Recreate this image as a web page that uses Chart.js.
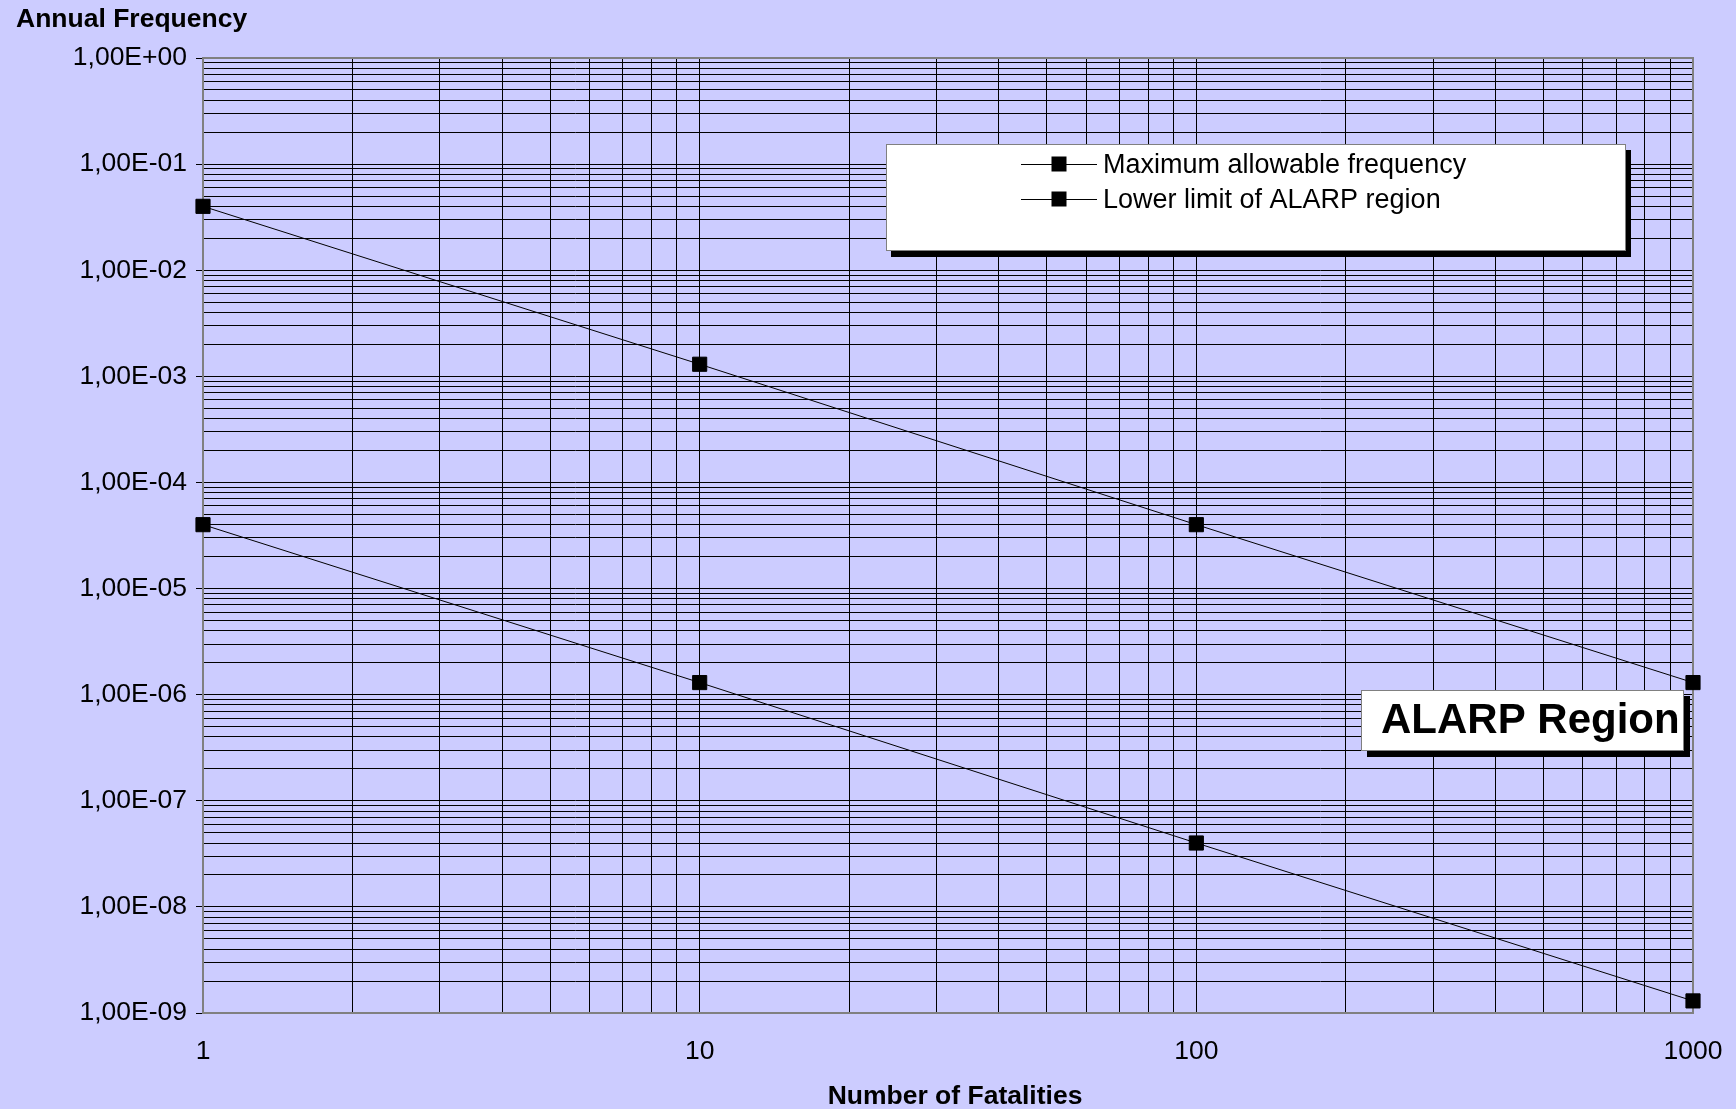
<!DOCTYPE html>
<html>
<head>
<meta charset="utf-8">
<title>F-N Curve</title>
<script src="https://cdn.jsdelivr.net/npm/chart.js@4/dist/chart.umd.min.js"></script>
<style>
  html, body { margin: 0; padding: 0; background: #ccccff; }
  #wrap { width: 1736px; height: 1109px; position: relative; }
  canvas { display: block; }
</style>
</head>
<body>
<div id="wrap"><canvas id="fn" width="1736" height="1109"></canvas></div>
<script>
// Number of fatalities (N) and annual frequency limits
const fatalities   = [1, 10, 100, 1000];
const maxAllowable = [4e-2, 1.3e-3, 4e-5, 1.3e-6];
const alarpLower   = [4e-5, 1.3e-6, 4e-8, 1.3e-9];
const seriesNames  = ['Maximum allowable frequency', 'Lower limit of ALARP region'];

// Axis labels
const xTickLabels = ['1', '10', '100', '1000'];
const yTickLabels = ['1,00E+00', '1,00E-01', '1,00E-02', '1,00E-03', '1,00E-04',
                     '1,00E-05', '1,00E-06', '1,00E-07', '1,00E-08', '1,00E-09'];
const yAxisTitle  = 'Annual Frequency';
const xAxisTitle  = 'Number of Fatalities';
const regionLabel = 'ALARP Region';

const FONT = '"Liberation Sans", Arial, Helvetica, sans-serif';
const FS = 26.5;

// gridline values 1..9 x 10^k between two powers of ten
function logGrid(minExp, maxExp) {
  const out = [];
  for (let e = minExp; e < maxExp; e++) {
    for (let m = 1; m <= 9; m++) out.push({ value: m * Math.pow(10, e), major: m === 1 });
  }
  out.push({ value: Math.pow(10, maxExp), major: true });
  return out;
}
function isDecade(v) {
  const l = Math.log10(v);
  return Math.abs(l - Math.round(l)) < 1e-9;
}

const decor = {
  id: 'decor',
  beforeDraw(chart) {
    const ctx = chart.ctx;
    ctx.save();
    ctx.fillStyle = '#ccccff';
    ctx.fillRect(0, 0, chart.width, chart.height);
    ctx.restore();
  },
  beforeDatasetsDraw(chart) {
    const { ctx, chartArea: a } = chart;
    ctx.save();
    ctx.strokeStyle = '#808080';
    ctx.lineWidth = 2;
    ctx.strokeRect(a.left, a.top, a.right - a.left, a.bottom - a.top);
    ctx.restore();
  },
  afterDatasetsDraw(chart) {
    const { ctx, chartArea: a } = chart;
    ctx.save();

    // legend box
    const lx = a.left + 683, ly = a.top + 86, lw = 740, lh = 107;
    ctx.fillStyle = '#000';
    ctx.fillRect(lx + 5, ly + 6, lw, lh);
    ctx.fillStyle = '#fff';
    ctx.fillRect(lx, ly, lw, lh);
    ctx.strokeStyle = '#808080';
    ctx.lineWidth = 1;
    ctx.strokeRect(lx + 0.5, ly + 0.5, lw - 1, lh - 1);

    chart.data.datasets.forEach((ds, i) => {
      const y = Math.round(ly + 20 + i * 35) + 0.5;
      ctx.strokeStyle = '#000';
      ctx.lineWidth = 1;
      ctx.beginPath();
      ctx.moveTo(lx + 135, y);
      ctx.lineTo(lx + 211, y);
      ctx.stroke();
      ctx.fillStyle = '#000';
      ctx.fillRect(lx + 165.5, y - 8, 15, 15);
      ctx.font = `27px ${FONT}`;
      ctx.textBaseline = 'middle';
      ctx.textAlign = 'left';
      ctx.fillText(ds.label, lx + 217, y + 1);
    });

    // region annotation box
    const bx = a.left + 1158, by = a.top + 632, bw = 323, bh = 61;
    ctx.fillStyle = '#000';
    ctx.fillRect(bx + 6, by + 6, bw, bh);
    ctx.fillStyle = '#fff';
    ctx.fillRect(bx, by, bw, bh);
    ctx.strokeStyle = '#808080';
    ctx.strokeRect(bx + 0.5, by + 0.5, bw - 1, bh - 1);
    ctx.fillStyle = '#000';
    ctx.font = `bold 42px ${FONT}`;
    ctx.textBaseline = 'alphabetic';
    ctx.textAlign = 'left';
    ctx.fillText(regionLabel, bx + 20, by + 43);

    ctx.restore();
  },
  afterDraw(chart) {
    const ctx = chart.ctx;
    ctx.save();
    ctx.fillStyle = '#000';
    ctx.font = `bold ${FS}px ${FONT}`;
    ctx.textBaseline = 'alphabetic';
    ctx.textAlign = 'left';
    ctx.fillText(yAxisTitle, 16, 26.5);
    ctx.textAlign = 'center';
    ctx.fillText(xAxisTitle, 955, 1103.5);
    ctx.restore();
  }
};

const seriesStyle = {
  borderColor: '#000',
  borderWidth: 1,
  pointStyle: 'rect',
  pointRadius: 10,
  pointBackgroundColor: '#000',
  pointBorderColor: '#000',
  pointBorderWidth: 1,
  tension: 0,
  fill: false,
  clip: false
};

new Chart(document.getElementById('fn'), {
  type: 'line',
  data: {
    datasets: [
      Object.assign({ label: seriesNames[0], data: fatalities.map((n, i) => ({ x: n, y: maxAllowable[i] })) }, seriesStyle),
      Object.assign({ label: seriesNames[1], data: fatalities.map((n, i) => ({ x: n, y: alarpLower[i] })) }, seriesStyle)
    ]
  },
  options: {
    responsive: false,
    animation: false,
    events: [],
    layout: { padding: { top: 58, right: 43, left: 0, bottom: 0 } },
    plugins: { legend: { display: false }, tooltip: { enabled: false } },
    scales: {
      x: {
        type: 'logarithmic',
        position: 'bottom',
        min: 1,
        max: 1000,
        afterBuildTicks(scale) { scale.ticks = logGrid(0, 3); },
        afterFit(scale) {
          scale.height = 96;
          scale.paddingLeft = 0;
          scale.paddingRight = 0;
        },
        border: { display: false },
        grid: { color: '#000', lineWidth: 1, drawTicks: false },
        ticks: {
          autoSkip: false,
          maxRotation: 0,
          padding: 23,
          color: '#000',
          font: { family: FONT, size: FS },
          callback: (v) => isDecade(v) ? xTickLabels[Math.round(Math.log10(v))] : ''
        }
      },
      y: {
        type: 'logarithmic',
        position: 'left',
        min: 1e-9,
        max: 1,
        afterBuildTicks(scale) { scale.ticks = logGrid(-9, 0); },
        afterFit(scale) { scale.width = 203; },
        border: { display: false },
        grid: {
          color: '#000',
          lineWidth: 1,
          drawTicks: true,
          tickLength: 7,
          tickColor: (c) => (c.tick && isDecade(c.tick.value)) ? '#000' : 'rgba(0,0,0,0)'
        },
        ticks: {
          autoSkip: false,
          padding: 9,
          color: '#000',
          font: { family: FONT, size: FS },
          callback: (v) => isDecade(v) ? yTickLabels[-Math.round(Math.log10(v))] : ''
        }
      }
    }
  },
  plugins: [decor]
});
</script>
</body>
</html>
